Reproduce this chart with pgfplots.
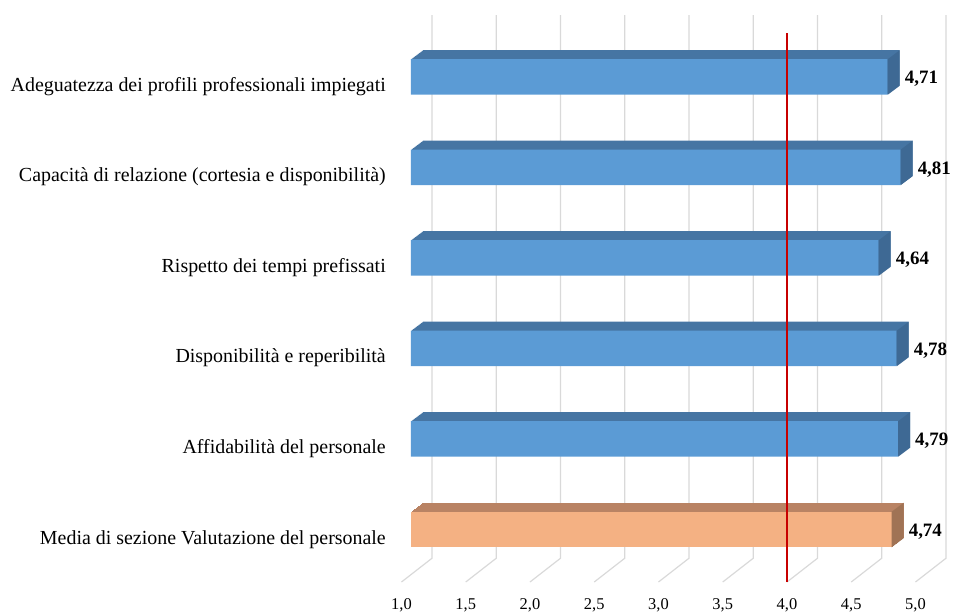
\documentclass[border=0pt]{standalone}
\usepackage{fontspec}
\setmainfont{Liberation Serif}
\usepackage{pgfplots}
\pgfplotsset{compat=1.18}
\usepackage{pgfplotstable}

\definecolor{bluefront}{HTML}{5B9BD5}
\definecolor{bluetop}{HTML}{4675A3}
\definecolor{blueside}{HTML}{3E6994}
\definecolor{orfront}{HTML}{F4B183}
\definecolor{ortop}{HTML}{B98364}
\definecolor{orside}{HTML}{A07355}
\definecolor{gridc}{HTML}{D9D9D9}
\definecolor{redline}{HTML}{C80000}

% right-hand face of a bar, drawn at the bar end
\pgfdeclareplotmark{sideface}{%
  \pgfpathmoveto{\pgfpoint{0bp}{-17.75bp}}%
  \pgfpathlineto{\pgfpoint{0bp}{17.75bp}}%
  \pgfpathlineto{\pgfpoint{12bp}{26.75bp}}%
  \pgfpathlineto{\pgfpoint{12bp}{-8.75bp}}%
  \pgfpathclose
  \pgfusepathqfill}

% pos: 0 = bottom row
\pgfplotstableread{
pos v
5 4.71
4 4.81
3 4.64
2 4.78
1 4.79
}\bluedata
\pgfplotstableread{
pos v
0 4.74
}\mediadata

\begin{document}
\begin{tikzpicture}
\begin{axis}[
  scale only axis, width=514bp, height=543bp,
  at={(0,0)}, anchor=south west,
  xmin=0, xmax=4, ymin=-0.5, ymax=5.5,
  clip=false,
  axis line style={draw=none},
  major tick length=0pt,
  xtick={0,0.5,...,4},
  xticklabels={{1,0},{1,5},{2,0},{2,5},{3,0},{3,5},{4,0},{4,5},{5,0}},
  ytick={0,...,5},
  yticklabels={Media di sezione Valutazione del personale,
    Affidabilità del personale,
    Disponibilità e reperibilità,
    Rispetto dei tempi prefissati,
    Capacità di relazione (cortesia e disponibilità),
    Adeguatezza dei profili professionali impiegati},
  xticklabel style={font=\fontsize{16.5}{19}\selectfont, anchor=north, inner sep=0pt, xshift=-9.5bp, yshift=-23.5bp},
  yticklabel style={font=\fontsize{20}{24}\selectfont, anchor=base east, inner sep=0pt, xshift=-25bp, yshift=-14.5bp},
  bar width=35.5bp,
  valstyle/.style={point meta=explicit,
    nodes near coords={\pgfmathprintnumber[fixed,fixed zerofill,precision=2,use comma,assume math mode=true]{\pgfplotspointmeta}},
    nodes near coords style={font=\bfseries\fontsize{19}{22}\selectfont, anchor=base west, inner sep=0pt, xshift=17bp, yshift=-7bp, text=black}},
]
% back wall and floor grid
\pgfplotsinvokeforeach{0,0.5,...,4}{
  \draw[gridc, line width=1.2bp] ([shift={(-9.5bp,-7.25bp)}]axis cs:#1,-0.5) -- ([shift={(21bp,16.5bp)}]axis cs:#1,-0.5) -- ([shift={(21bp,16.5bp)}]axis cs:#1,5.5);
}
% depth of the bars: swept copies
\pgfplotsinvokeforeach{1,...,12}{
  \addplot[xbar, bar shift=0pt, fill=bluetop, draw=none, xshift=#1bp, yshift={0.75bp*#1}] table[x expr=\thisrow{v}-1, y=pos] {\bluedata};
  \addplot[xbar, bar shift=0pt, fill=ortop, draw=none, xshift=#1bp, yshift={0.75bp*#1}] table[x expr=\thisrow{v}-1, y=pos] {\mediadata};
}
\addplot[only marks, mark=sideface, mark options={fill=blueside, draw=none}] table[x expr=\thisrow{v}-1, y=pos] {\bluedata};
\addplot[only marks, mark=sideface, mark options={fill=orside, draw=none}] table[x expr=\thisrow{v}-1, y=pos] {\mediadata};
% front faces
\addplot[xbar, bar shift=0pt, fill=bluefront, draw=none, valstyle] table[x expr=\thisrow{v}-1, y=pos, meta=v] {\bluedata};
\addplot[xbar, bar shift=0pt, fill=orfront, draw=none, valstyle] table[x expr=\thisrow{v}-1, y=pos, meta=v] {\mediadata};
% threshold at 4,0
\addplot[redline, line width=1.75bp, xshift=-9.5bp, yshift=-7.25bp] coordinates {(3,-0.5) (3,5.566)};
\end{axis}
\pgfresetboundingbox
\path (-411bp,-38.25bp) rectangle (545bp,574.75bp);
\end{tikzpicture}
\end{document}
